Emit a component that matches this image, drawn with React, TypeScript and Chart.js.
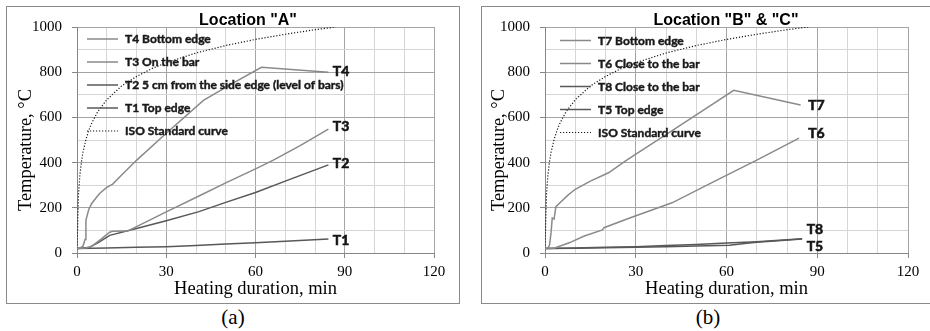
import React, { useEffect, useRef } from 'react';
import { Chart, registerables } from 'chart.js';

Chart.register(...registerables);

// ---------------- Data: Location "A" ----------------
const aT4Time = [0, 1, 2, 2.7, 3, 4, 5, 7.5, 10, 12, 15, 20, 30, 42.5, 52, 62, 84.5];
const aT4Temp = [20, 22, 30, 60, 145, 195, 220, 262, 290, 305, 345, 410, 530, 675, 748, 822, 800];

const aT3Time = [0, 3, 5, 8, 11, 12, 17, 19, 30, 41, 50, 60, 66, 75, 84.5];
const aT3Temp = [20, 22, 30, 60, 92, 96, 97, 110, 182, 252, 310, 372, 411, 475, 548];

const aT2Time = [0, 4, 7, 11, 20, 30, 41, 50, 60, 70, 84.5];
const aT2Temp = [20, 24, 45, 78, 108, 143, 183, 224, 268, 318, 390];

const aT1Time = [0, 10, 20, 30, 40, 50, 60, 70, 84.5];
const aT1Temp = [20, 22, 25, 28, 33, 40, 45, 52, 62];

// ---------------- Data: Location "B" & "C" ----------------
const bT7Time = [0, 1, 1.5, 2, 2.4, 3, 3.6, 5.3, 7.5, 10, 15, 21, 27, 40, 50, 62.4, 84.5];
const bT7Temp = [20, 22, 35, 90, 155, 150, 205, 227, 255, 282, 318, 355, 411, 524, 611, 720, 655];

const bT6Time = [0, 3, 8, 13, 19, 19.5, 28, 42, 55, 70, 84];
const bT6Temp = [20, 21, 45, 75, 102, 112, 155, 222, 310, 411, 508];

const bT8Time = [0, 10, 20, 30, 40, 50, 60, 70, 85];
const bT8Temp = [20, 22, 25, 28, 33, 38, 44, 50, 63];

const bT5Time = [0, 10, 20, 30, 40, 50, 61, 66, 70, 85];
const bT5Temp = [20, 21, 23, 25, 28, 31, 34, 42, 48, 62];

// ISO standard curve
const isoTime = [0, 0.5, 1, 1.5, 2, 3, 4, 5, 7, 10, 15, 20, 25, 30, 40, 50, 60, 70, 80, 87];
const isoTemp = [20, 261, 349, 404, 445, 502, 544, 576, 626, 678, 739, 781, 815, 842, 885, 918, 945, 968, 988, 1000];

// Labels
const aTitle = 'Location "A"';
const bTitle = 'Location "B" & "C"';
const aSeriesNames = ['T4 Bottom edge', 'T3 On the bar', 'T2 5 cm from the side edge (level of bars)', 'T1 Top edge', 'ISO Standard curve'];
const bSeriesNames = ['T7 Bottom edge', 'T6 Close to the bar', 'T8 Close to the bar', 'T5 Top edge', 'ISO Standard curve'];

const aEndText = ['T4', 'T3', 'T2', 'T1'];
const aEndTime = [86, 86, 86, 86];
const aEndTemp = [801, 561, 398, 57];
const bEndText = ['T7', 'T6', 'T8', 'T5'];
const bEndTime = [87, 87, 86.5, 86.5];
const bEndTemp = [654, 530, 102, 31];

const xTitle = 'Heating duration, min';
const yTitle = 'Temperature, °C';

// ---------------- Styling ----------------
const LIGHT = '#8a8a8a';
const DARK = '#585858';
const SERIF = "'Liberation Serif', 'Times New Roman', serif";
const GRID_MAJOR = '#a4a4a4';
const GRID_MINOR = '#d6d6d6';
const AXIS = '#868686';

const pts = (xs: number[], ys: number[]) => xs.map((x, i) => ({ x, y: ys[i] }));

function lineDs(label: string, xs: number[], ys: number[], color: string) {
  return {
    label,
    data: pts(xs, ys),
    borderColor: color,
    backgroundColor: color,
    borderWidth: 1.5,
    pointRadius: 0,
    tension: 0,
    fill: false,
  };
}

function isoDs(label: string) {
  return {
    label,
    data: pts(isoTime, isoTemp),
    borderColor: '#1a1a1a',
    backgroundColor: '#1a1a1a',
    borderWidth: 1.2,
    borderDash: [1.2, 1.8],
    pointRadius: 0,
    tension: 0,
    fill: false,
  };
}

interface PanelCfg {
  boxLeft: number;
  yAxisWidth: number;
  padRight: number;
  title: string;
  titleX: number;
  yTitleX: number;
  legendX: number;
  legendTop: number;
  datasets: any[];
  endText: string[];
  endTime: number[];
  endTemp: number[];
}

function boldText(ctx: CanvasRenderingContext2D, t: string, x: number, y: number, w: number) {
  ctx.fillText(t, x, y);
  ctx.lineWidth = w;
  ctx.strokeText(t, x, y);
}

function makePlugin(cfg: PanelCfg) {
  return {
    id: 'annot',
    afterDatasetsDraw(chart: any) {
      const { ctx, chartArea, scales } = chart;
      ctx.save();
      // legend
      chart.data.datasets.forEach((ds: any, i: number) => {
        const y = chartArea.top + cfg.legendTop + i * 23;
        const x0 = chartArea.left + cfg.legendX;
        ctx.strokeStyle = ds.borderColor;
        ctx.lineWidth = ds.borderWidth;
        ctx.setLineDash(ds.borderDash || []);
        ctx.beginPath();
        ctx.moveTo(x0, y);
        ctx.lineTo(x0 + 31, y);
        ctx.stroke();
        ctx.setLineDash([]);
        ctx.fillStyle = '#1a1a1a';
        ctx.strokeStyle = '#1a1a1a';
        ctx.font = 'bold 12px Lato';
        ctx.textAlign = 'left';
        ctx.textBaseline = 'middle';
        boldText(ctx, ds.label, x0 + 38, y + 0.5, 0.45);
      });
      // end labels
      ctx.font = 'bold 14px Lato';
      ctx.fillStyle = '#141414';
      ctx.strokeStyle = '#141414';
      ctx.textAlign = 'left';
      ctx.textBaseline = 'middle';
      cfg.endText.forEach((t, i) => {
        boldText(ctx, t, scales.x.getPixelForValue(cfg.endTime[i]), scales.y.getPixelForValue(cfg.endTemp[i]), 0.6);
      });
      // title
      ctx.font = "bold 16px 'Liberation Sans', Arial, sans-serif";
      ctx.fillStyle = '#000';
      ctx.textAlign = 'center';
      ctx.textBaseline = 'alphabetic';
      ctx.fillText(cfg.title, cfg.titleX, 18);
      // y axis title
      ctx.translate(cfg.yTitleX, 143);
      ctx.rotate(-Math.PI / 2);
      ctx.font = `18.5px ${SERIF}`;
      ctx.textAlign = 'center';
      ctx.textBaseline = 'middle';
      ctx.fillText(yTitle, 0, 0);
      ctx.restore();
    },
  };
}

function Panel({ cfg }: { cfg: PanelCfg }) {
  const ref = useRef<HTMLCanvasElement | null>(null);
  useEffect(() => {
    if (!ref.current) return;
    const chart = new Chart(ref.current, {
      type: 'line',
      data: { datasets: cfg.datasets },
      options: {
        animation: false,
        responsive: false,
        maintainAspectRatio: false,
        layout: { padding: { top: 20, right: cfg.padRight, left: 0, bottom: 0 } },
        plugins: { legend: { display: false }, tooltip: { enabled: false }, title: { display: false } },
        scales: {
          x: {
            type: 'linear',
            min: 0,
            max: 120,
            ticks: {
              stepSize: 10,
              autoSkip: false,
              maxRotation: 0,
              padding: 5,
              color: '#000',
              font: { family: SERIF, size: 15 },
              callback: (v: any) => (Number(v) % 30 === 0 ? String(v) : ''),
            },
            grid: {
              color: (c: any) => (c.tick && c.tick.value % 30 === 0 ? GRID_MAJOR : GRID_MINOR),
              tickColor: (c: any) => (c.tick && c.tick.value % 30 === 0 ? AXIS : 'rgba(0,0,0,0)'),
              tickLength: 5,
              lineWidth: 1,
            },
            border: { color: AXIS, width: 1 },
            title: {
              display: true,
              text: xTitle,
              color: '#000',
              font: { family: SERIF, size: 18.5 },
              padding: { top: 0, bottom: 3 },
            },
            afterFit: (s: any) => {
              s.height = 50;
            },
          },
          y: {
            type: 'linear',
            min: 0,
            max: 1000,
            ticks: {
              stepSize: 100,
              autoSkip: false,
              padding: 10,
              color: '#000',
              font: { family: SERIF, size: 15 },
              callback: (v: any) => (Number(v) % 200 === 0 ? String(v) : ''),
            },
            grid: {
              color: (c: any) => (c.tick && c.tick.value % 200 === 0 ? GRID_MAJOR : GRID_MINOR),
              tickColor: (c: any) => (c.tick && c.tick.value % 200 === 0 ? AXIS : 'rgba(0,0,0,0)'),
              tickLength: 5,
              lineWidth: 1,
            },
            border: { color: AXIS, width: 1 },
            afterFit: (s: any) => {
              s.width = cfg.yAxisWidth;
            },
          },
        },
      } as any,
      plugins: [makePlugin(cfg) as any],
    });
    return () => chart.destroy();
  }, [cfg]);
  return (
    <div
      style={{
        position: 'absolute',
        left: cfg.boxLeft,
        top: 6,
        width: 452,
        height: 296,
        border: '1px solid #8a8a8a',
        background: '#fff',
      }}
    >
      <canvas ref={ref} width={452} height={296} style={{ display: 'block', width: 452, height: 296 }} />
    </div>
  );
}

const cfgA: PanelCfg = {
  boxLeft: 6,
  yAxisWidth: 70,
  padRight: 25,
  title: aTitle,
  titleX: 241,
  yTitleX: 19,
  legendX: 10,
  legendTop: 12,
  datasets: [
    lineDs(aSeriesNames[0], aT4Time, aT4Temp, LIGHT),
    lineDs(aSeriesNames[1], aT3Time, aT3Temp, LIGHT),
    lineDs(aSeriesNames[2], aT2Time, aT2Temp, DARK),
    lineDs(aSeriesNames[3], aT1Time, aT1Temp, DARK),
    isoDs(aSeriesNames[4]),
  ],
  endText: aEndText,
  endTime: aEndTime,
  endTemp: aEndTemp,
};

const cfgB: PanelCfg = {
  boxLeft: 481,
  yAxisWidth: 63,
  padRight: 26,
  title: bTitle,
  titleX: 244,
  yTitleX: 17.5,
  legendX: 15,
  legendTop: 13.5,
  datasets: [
    lineDs(bSeriesNames[0], bT7Time, bT7Temp, LIGHT),
    lineDs(bSeriesNames[1], bT6Time, bT6Temp, LIGHT),
    lineDs(bSeriesNames[2], bT8Time, bT8Temp, DARK),
    lineDs(bSeriesNames[3], bT5Time, bT5Temp, DARK),
    isoDs(bSeriesNames[4]),
  ],
  endText: bEndText,
  endTime: bEndTime,
  endTemp: bEndTemp,
};

const captionStyle = (left: number): React.CSSProperties => ({
  position: 'absolute',
  left,
  top: 305,
  width: 454,
  textAlign: 'center',
  fontFamily: SERIF,
  fontSize: 21,
  lineHeight: '24px',
  color: '#000',
});

export default function App() {
  return (
    <div
      style={{
        position: 'absolute',
        left: 0,
        top: 0,
        width: 930,
        height: 331,
        overflow: 'hidden',
        background: '#fff',
      }}
    >
      <Panel cfg={cfgA} />
      <Panel cfg={cfgB} />
      <div style={captionStyle(6)}>(a)</div>
      <div style={captionStyle(481)}>(b)</div>
    </div>
  );
}
